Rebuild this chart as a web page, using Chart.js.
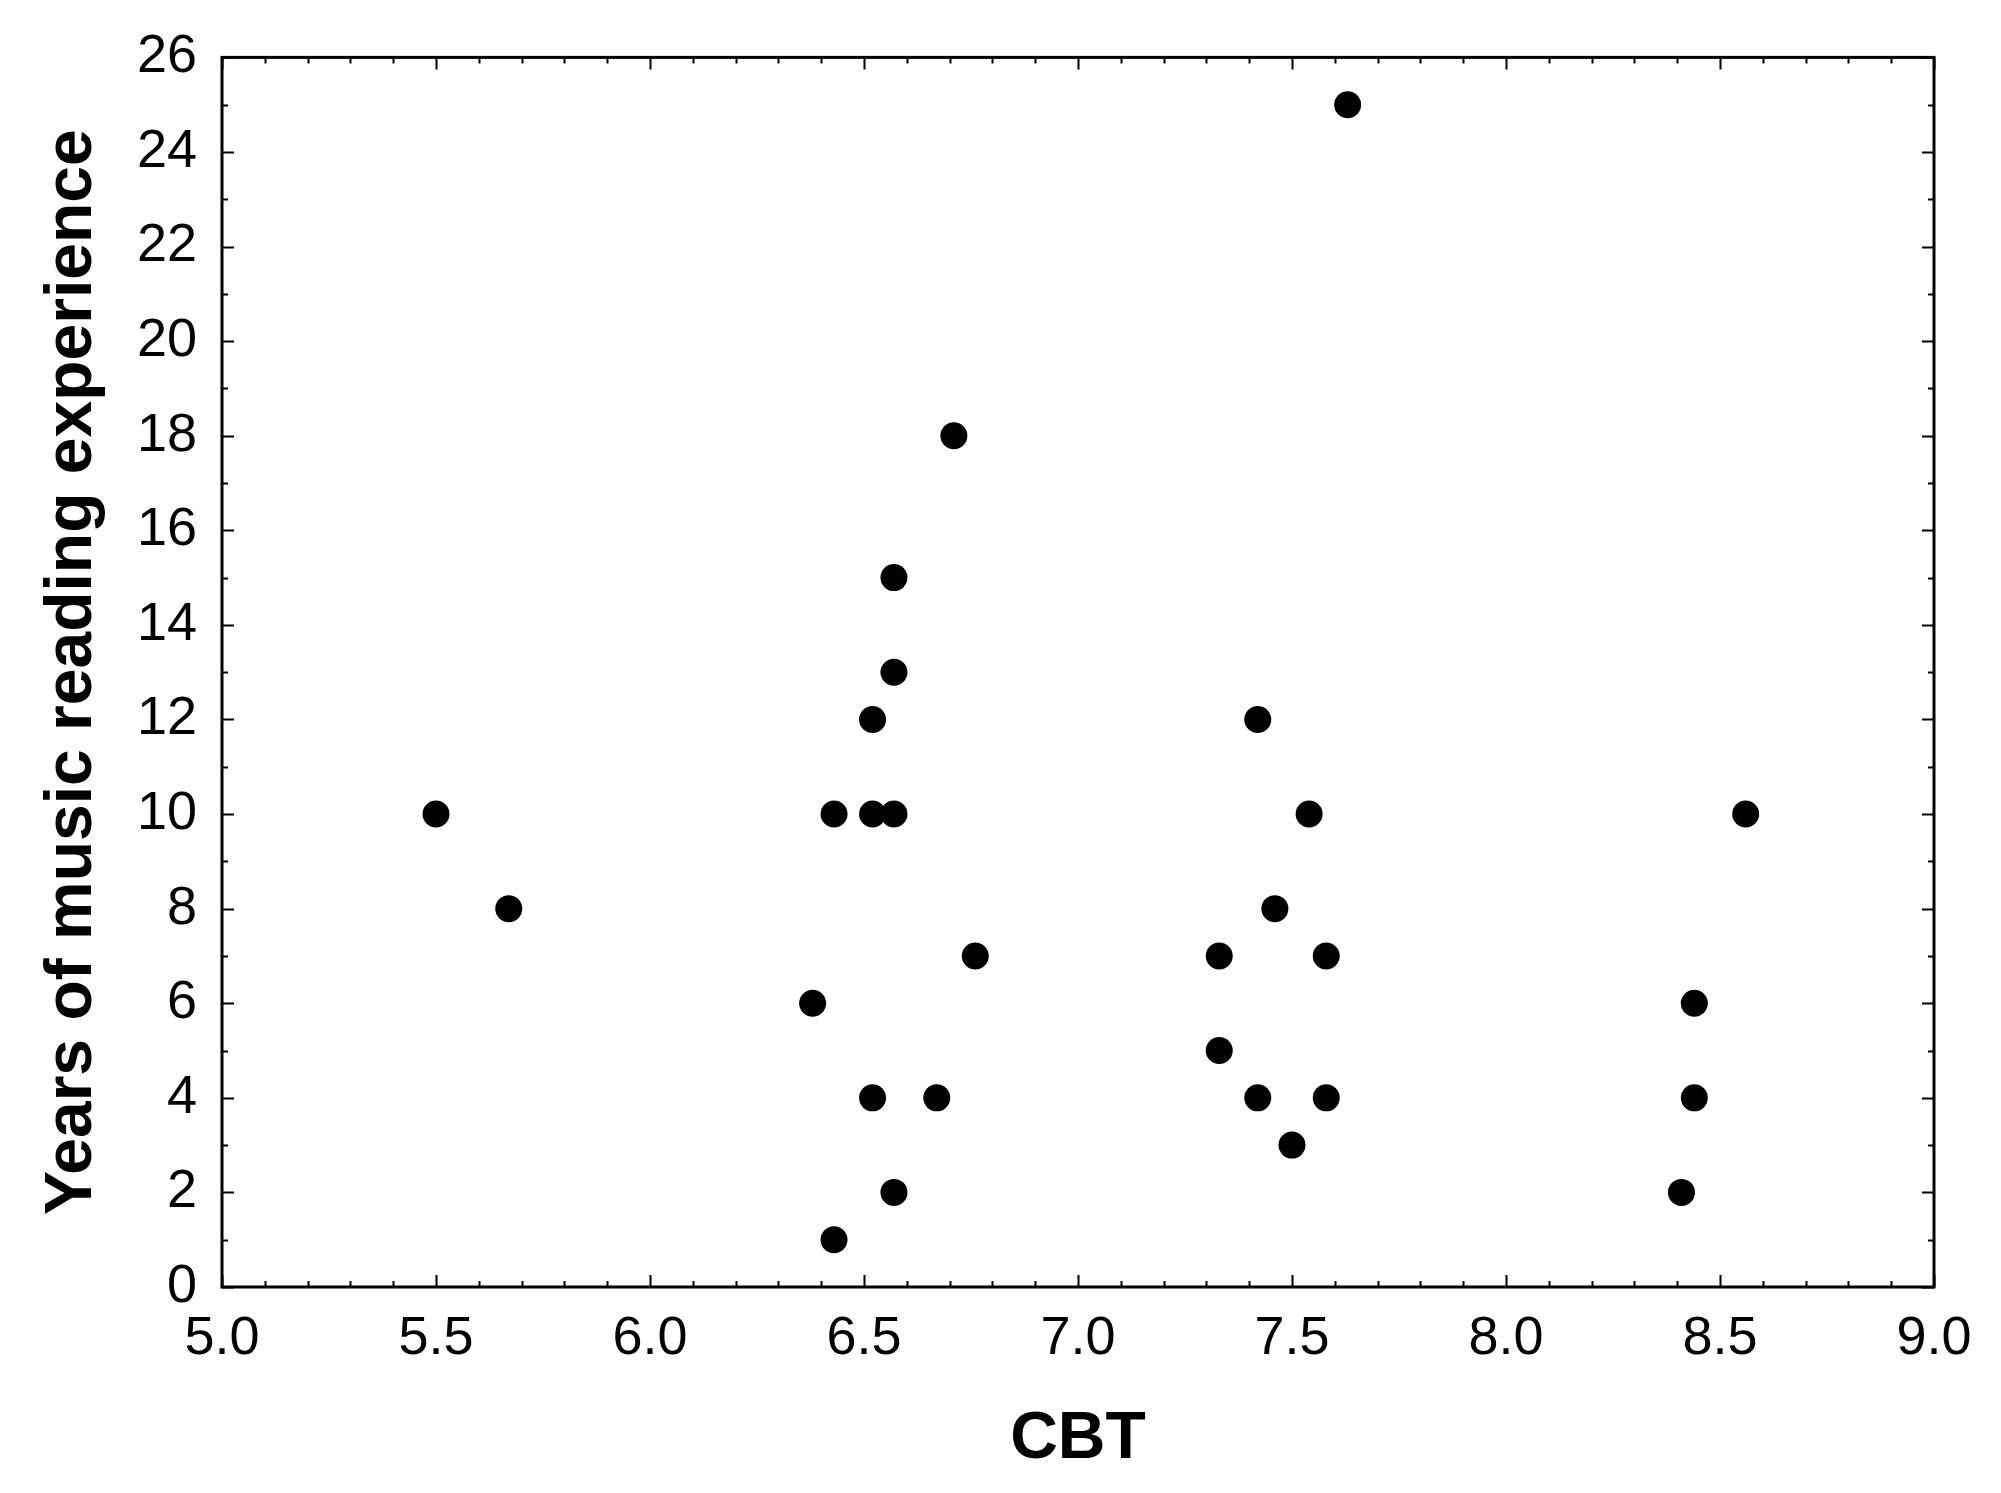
<!DOCTYPE html>
<html>
<head>
<meta charset="utf-8">
<script src="https://cdn.jsdelivr.net/npm/chart.js@4"></script>
<style>
  html, body { margin: 0; padding: 0; background: #fff; }
</style>
</head>
<body>
<canvas id="grafico" width="2001" height="1493"></canvas>
<script>
// Dados (CBT x anos de experiência em leitura musical)
const cbt = [5.50, 5.67, 6.38, 6.43, 6.43, 6.52, 6.52, 6.52, 6.57, 6.57, 6.57, 6.57, 6.67, 6.71, 6.76,
             7.33, 7.33, 7.42, 7.42, 7.46, 7.50, 7.54, 7.58, 7.58, 7.63, 8.41, 8.44, 8.44, 8.56];
const anos = [10, 8, 6, 10, 1, 12, 10, 4, 15, 13, 10, 2, 4, 18, 7,
              7, 5, 12, 4, 8, 3, 10, 7, 4, 25, 2, 6, 4, 10];

// Marcas dos eixos
const xTicks = [5.0, 5.5, 6.0, 6.5, 7.0, 7.5, 8.0, 8.5, 9.0];
const yTicks = [0, 2, 4, 6, 8, 10, 12, 14, 16, 18, 20, 22, 24, 26];

const pontos = cbt.map((x, i) => ({ x: x, y: anos[i] }));

// Plugin para desenhar a moldura e os ticks para dentro nos quatro lados
const moldura = {
  id: 'moldura',
  beforeDatasetsDraw(chart) {
    const { ctx, chartArea: a, scales: { x, y } } = chart;
    ctx.save();
    ctx.strokeStyle = '#000';
    ctx.lineWidth = 2;
    ctx.beginPath();
    // ticks do eixo x (principais a cada 0.5, secundários a cada 0.1)
    for (let i = 0; i <= 40; i++) {
      const v = 5 + i * 0.1;
      const px = Math.round(x.getPixelForValue(v)) + 0.5;
      const len = i % 5 === 0 ? 12 : 6;
      ctx.moveTo(px, a.bottom); ctx.lineTo(px, a.bottom - len);
      ctx.moveTo(px, a.top); ctx.lineTo(px, a.top + len);
    }
    // ticks do eixo y (principais a cada 2, secundários a cada 1)
    for (let v = 0; v <= 26; v++) {
      const py = Math.round(y.getPixelForValue(v)) + 0.5;
      const len = v % 2 === 0 ? 12 : 6;
      ctx.moveTo(a.left, py); ctx.lineTo(a.left + len, py);
      ctx.moveTo(a.right, py); ctx.lineTo(a.right - len, py);
    }
    ctx.stroke();
    ctx.lineWidth = 3;
    ctx.strokeRect(a.left, a.top, a.right - a.left, a.bottom - a.top);
    ctx.restore();
  }
};

const fonte = 'Arial, "Liberation Sans", sans-serif';

new Chart(document.getElementById('grafico'), {
  type: 'scatter',
  data: {
    datasets: [{
      data: pontos,
      backgroundColor: '#000',
      borderWidth: 0,
      pointRadius: 13.5,
      pointHoverRadius: 13.5
    }]
  },
  options: {
    responsive: false,
    animation: false,
    layout: { padding: { top: 50, right: 67, left: 0, bottom: 0 } },
    plugins: {
      legend: { display: false },
      tooltip: { enabled: false }
    },
    scales: {
      x: {
        type: 'linear',
        min: 5,
        max: 9,
        afterBuildTicks: scale => { scale.ticks = xTicks.map(v => ({ value: v })); },
        afterFit: scale => { scale.height = 206; },
        grid: { display: false, drawTicks: false },
        border: { display: false },
        ticks: {
          padding: 20,
          color: '#000',
          font: { family: fonte, size: 54 },
          callback: v => Number(v).toFixed(1)
        },
        title: {
          display: true,
          text: 'CBT',
          color: '#000',
          font: { family: fonte, size: 66, weight: 'bold' },
          padding: { top: 0, bottom: 14 }
        }
      },
      y: {
        type: 'linear',
        min: 0,
        max: 26,
        afterBuildTicks: scale => { scale.ticks = yTicks.map(v => ({ value: v })); },
        afterFit: scale => { scale.width = 222; },
        grid: { display: false, drawTicks: false },
        border: { display: false },
        ticks: {
          padding: 25,
          color: '#000',
          font: { family: fonte, size: 54 },
          callback: v => String(v)
        },
        title: {
          display: true,
          text: 'Years of music reading experience',
          color: '#000',
          font: { family: fonte, size: 66, weight: 'bold' },
          padding: { top: 33, bottom: 0 }
        }
      }
    }
  },
  plugins: [moldura]
});
</script>
</body>
</html>
